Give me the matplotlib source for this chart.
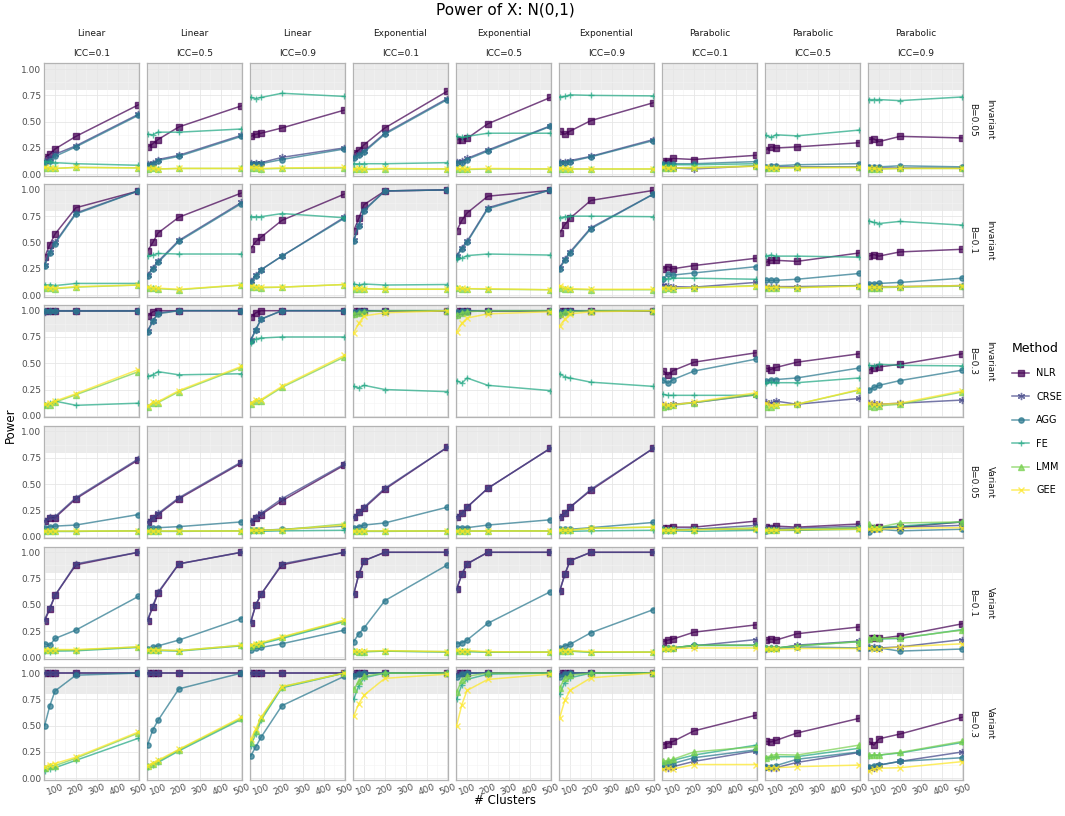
import matplotlib
matplotlib.use('Agg')
import matplotlib.pyplot as plt
from matplotlib.lines import Line2D
from matplotlib.ticker import MultipleLocator

# eixo x: numero de clusters
clusters = [50, 75, 100, 200, 500]

metodos = ['NLR', 'CRSE', 'AGG', 'FE', 'LMM', 'GEE']
cores = ['#440154', '#414487', '#2A788E', '#22A884', '#7AD151', '#FDE725']
marcadores = ['s', (6, 2, 0), 'o', '+', '^', 'x']
tamanhos = [3.8, 5.2, 3.8, 4.4, 3.8, 3.8]

formas = ['Linear', 'Linear', 'Linear', 'Exponential', 'Exponential', 'Exponential',
          'Parabolic', 'Parabolic', 'Parabolic']
iccs = ['ICC=0.1', 'ICC=0.5', 'ICC=0.9'] * 3
efeitos = ['Invariant', 'Invariant', 'Invariant', 'Variant', 'Variant', 'Variant']
betas = ['B=0.05', 'B=0.1', 'B=0.3', 'B=0.05', 'B=0.1', 'B=0.3']

# cada metodo: 6 linhas (efeito x B) x 9 colunas (forma x ICC) x 5 pontos
nlr = [
    # Invariant B=0.05
    [[0.16, 0.19, 0.24, 0.36, 0.66], [0.26, 0.29, 0.33, 0.45, 0.65], [0.36, 0.38, 0.39, 0.44, 0.61],
     [0.20, 0.23, 0.28, 0.44, 0.79], [0.33, 0.33, 0.34, 0.48, 0.73], [0.41, 0.38, 0.41, 0.51, 0.68],
     [0.13, 0.13, 0.15, 0.14, 0.18], [0.23, 0.26, 0.25, 0.26, 0.30], [0.33, 0.335, 0.31, 0.36, 0.345]],
    # Invariant B=0.1
    [[0.36, 0.48, 0.58, 0.83, 0.99], [0.42, 0.50, 0.59, 0.74, 0.97], [0.44, 0.51, 0.55, 0.71, 0.96],
     [0.61, 0.73, 0.86, 0.99, 1.0], [0.61, 0.71, 0.78, 0.94, 0.995], [0.59, 0.67, 0.73, 0.90, 0.995],
     [0.25, 0.27, 0.25, 0.28, 0.35], [0.31, 0.33, 0.33, 0.32, 0.40], [0.37, 0.385, 0.37, 0.41, 0.435]],
    # Invariant B=0.3
    [[1.0, 1.0, 1.0, 1.0, 1.0], [0.95, 0.99, 1.0, 1.0, 1.0], [0.94, 0.98, 1.0, 1.0, 1.0],
     [1.0, 1.0, 1.0, 1.0, 1.0], [1.0, 1.0, 1.0, 1.0, 1.0], [1.0, 1.0, 1.0, 1.0, 1.0],
     [0.43, 0.39, 0.43, 0.51, 0.60], [0.455, 0.44, 0.46, 0.51, 0.59], [0.435, 0.455, 0.465, 0.49, 0.59]],
    # Variant B=0.05
    [[0.15, 0.18, 0.18, 0.36, 0.73], [0.14, 0.18, 0.21, 0.36, 0.70], [0.14, 0.18, 0.21, 0.34, 0.68],
     [0.19, 0.23, 0.27, 0.45, 0.85], [0.19, 0.22, 0.28, 0.46, 0.84], [0.19, 0.22, 0.28, 0.44, 0.84],
     [0.085, 0.085, 0.09, 0.09, 0.148], [0.09, 0.085, 0.10, 0.09, 0.12], [0.085, 0.085, 0.09, 0.09, 0.14]],
    # Variant B=0.1
    [[0.35, 0.46, 0.59, 0.88, 1.0], [0.35, 0.48, 0.61, 0.89, 1.0], [0.33, 0.50, 0.60, 0.88, 1.0],
     [0.60, 0.79, 0.92, 1.0, 1.0], [0.65, 0.79, 0.89, 1.0, 1.0], [0.63, 0.79, 0.92, 1.0, 1.0],
     [0.15, 0.165, 0.175, 0.24, 0.31], [0.165, 0.175, 0.165, 0.225, 0.29], [0.18, 0.18, 0.18, 0.205, 0.32]],
    # Variant B=0.3
    [[1.0, 1.0, 1.0, 1.0, 1.0], [1.0, 1.0, 1.0, 1.0, 1.0], [1.0, 1.0, 1.0, 1.0, 1.0],
     [1.0, 1.0, 1.0, 1.0, 1.0], [1.0, 1.0, 1.0, 1.0, 1.0], [1.0, 1.0, 1.0, 1.0, 1.0],
     [0.32, 0.33, 0.35, 0.45, 0.60], [0.35, 0.345, 0.36, 0.43, 0.57], [0.35, 0.315, 0.375, 0.42, 0.58]],
]

crse = [
    [[0.13, 0.15, 0.19, 0.27, 0.57], [0.10, 0.11, 0.14, 0.18, 0.37], [0.11, 0.11, 0.11, 0.16, 0.25],
     [0.16, 0.19, 0.22, 0.39, 0.72], [0.12, 0.13, 0.15, 0.23, 0.46], [0.12, 0.12, 0.13, 0.17, 0.33],
     [0.07, 0.06, 0.06, 0.05, 0.08], [0.06, 0.07, 0.07, 0.07, 0.07], [0.06, 0.06, 0.06, 0.06, 0.06]],
    [[0.29, 0.41, 0.50, 0.78, 0.99], [0.19, 0.26, 0.32, 0.52, 0.88], [0.13, 0.19, 0.24, 0.37, 0.74],
     [0.52, 0.67, 0.81, 0.99, 1.0], [0.37, 0.45, 0.51, 0.83, 1.0], [0.26, 0.34, 0.41, 0.64, 0.96],
     [0.10, 0.09, 0.08, 0.075, 0.12], [0.08, 0.08, 0.08, 0.08, 0.09], [0.08, 0.07, 0.08, 0.08, 0.09]],
    [[0.99, 1.0, 1.0, 1.0, 1.0], [0.81, 0.90, 0.98, 1.0, 1.0], [0.72, 0.82, 0.92, 1.0, 1.0],
     [0.97, 0.99, 1.0, 1.0, 1.0], [0.96, 0.99, 1.0, 1.0, 1.0], [0.96, 0.99, 1.0, 1.0, 1.0],
     [0.10, 0.095, 0.11, 0.125, 0.20], [0.13, 0.12, 0.14, 0.11, 0.165], [0.12, 0.12, 0.11, 0.12, 0.15]],
    [[0.15, 0.19, 0.19, 0.37, 0.74], [0.14, 0.18, 0.22, 0.37, 0.71], [0.15, 0.19, 0.22, 0.36, 0.69],
     [0.19, 0.23, 0.28, 0.46, 0.85], [0.19, 0.22, 0.28, 0.46, 0.84], [0.19, 0.22, 0.28, 0.45, 0.84],
     [0.06, 0.06, 0.06, 0.07, 0.107], [0.08, 0.08, 0.08, 0.08, 0.10], [0.08, 0.07, 0.08, 0.09, 0.107]],
    [[0.36, 0.47, 0.59, 0.89, 1.0], [0.36, 0.49, 0.62, 0.89, 1.0], [0.34, 0.50, 0.60, 0.89, 1.0],
     [0.60, 0.79, 0.92, 1.0, 1.0], [0.65, 0.79, 0.89, 1.0, 1.0], [0.63, 0.79, 0.92, 1.0, 1.0],
     [0.085, 0.085, 0.09, 0.11, 0.17], [0.08, 0.085, 0.085, 0.117, 0.155], [0.10, 0.10, 0.09, 0.10, 0.17]],
    [[1.0, 1.0, 1.0, 1.0, 1.0], [1.0, 1.0, 1.0, 1.0, 1.0], [1.0, 1.0, 1.0, 1.0, 1.0],
     [0.99, 1.0, 1.0, 1.0, 1.0], [0.99, 1.0, 1.0, 1.0, 1.0], [0.99, 1.0, 1.0, 1.0, 1.0],
     [0.11, 0.095, 0.11, 0.16, 0.26], [0.11, 0.10, 0.10, 0.15, 0.245], [0.095, 0.10, 0.125, 0.16, 0.25]],
]

agg = [
    [[0.11, 0.13, 0.17, 0.26, 0.56], [0.09, 0.10, 0.13, 0.17, 0.36], [0.10, 0.10, 0.10, 0.14, 0.24],
     [0.15, 0.18, 0.21, 0.38, 0.71], [0.11, 0.11, 0.14, 0.22, 0.455], [0.11, 0.11, 0.12, 0.165, 0.32],
     [0.10, 0.10, 0.10, 0.10, 0.12], [0.07, 0.08, 0.08, 0.09, 0.10], [0.07, 0.07, 0.07, 0.08, 0.07]],
    [[0.28, 0.40, 0.49, 0.77, 0.99], [0.18, 0.25, 0.31, 0.51, 0.87], [0.12, 0.18, 0.24, 0.37, 0.73],
     [0.51, 0.66, 0.80, 0.99, 1.0], [0.36, 0.44, 0.50, 0.82, 1.0], [0.25, 0.33, 0.40, 0.63, 0.96],
     [0.15, 0.20, 0.19, 0.21, 0.27], [0.14, 0.14, 0.14, 0.15, 0.205], [0.105, 0.105, 0.11, 0.12, 0.16]],
    [[1.0, 1.0, 1.0, 1.0, 1.0], [0.80, 0.90, 0.97, 1.0, 1.0], [0.71, 0.82, 0.92, 1.0, 1.0],
     [0.99, 1.0, 1.0, 1.0, 1.0], [0.99, 1.0, 1.0, 1.0, 1.0], [0.99, 1.0, 1.0, 1.0, 1.0],
     [0.345, 0.31, 0.345, 0.425, 0.54], [0.33, 0.34, 0.345, 0.36, 0.455], [0.245, 0.27, 0.29, 0.335, 0.435]],
    [[0.08, 0.095, 0.10, 0.11, 0.21], [0.08, 0.08, 0.085, 0.095, 0.14], [0.06, 0.06, 0.06, 0.07, 0.10],
     [0.08, 0.095, 0.11, 0.13, 0.28], [0.08, 0.08, 0.085, 0.11, 0.16], [0.07, 0.07, 0.07, 0.085, 0.135],
     [0.07, 0.06, 0.07, 0.07, 0.07], [0.055, 0.06, 0.06, 0.06, 0.085], [0.045, 0.07, 0.07, 0.055, 0.07]],
    [[0.13, 0.115, 0.18, 0.26, 0.58], [0.08, 0.095, 0.11, 0.165, 0.37], [0.07, 0.085, 0.095, 0.13, 0.26],
     [0.15, 0.225, 0.28, 0.54, 0.88], [0.13, 0.14, 0.165, 0.325, 0.625], [0.085, 0.11, 0.125, 0.235, 0.455],
     [0.085, 0.085, 0.09, 0.115, 0.115], [0.085, 0.085, 0.09, 0.10, 0.09], [0.09, 0.085, 0.09, 0.06, 0.08]],
    [[0.50, 0.69, 0.83, 0.98, 1.0], [0.32, 0.46, 0.55, 0.85, 1.0], [0.21, 0.30, 0.39, 0.69, 0.97],
     [0.97, 0.99, 1.0, 1.0, 1.0], [0.96, 0.99, 1.0, 1.0, 1.0], [0.96, 0.99, 1.0, 1.0, 1.0],
     [0.13, 0.14, 0.14, 0.195, 0.27], [0.11, 0.11, 0.12, 0.18, 0.25], [0.11, 0.12, 0.125, 0.16, 0.195]],
]

fe = [
    [[0.12, 0.12, 0.11, 0.10, 0.085], [0.38, 0.375, 0.40, 0.40, 0.43], [0.73, 0.72, 0.73, 0.77, 0.74],
     [0.10, 0.10, 0.10, 0.10, 0.11], [0.36, 0.35, 0.36, 0.39, 0.39], [0.735, 0.74, 0.755, 0.75, 0.745],
     [0.09, 0.09, 0.09, 0.09, 0.10], [0.37, 0.35, 0.375, 0.365, 0.42], [0.71, 0.71, 0.71, 0.70, 0.735]],
    [[0.095, 0.10, 0.09, 0.11, 0.11], [0.37, 0.38, 0.395, 0.39, 0.39], [0.745, 0.745, 0.745, 0.775, 0.735],
     [0.105, 0.095, 0.105, 0.095, 0.10], [0.345, 0.35, 0.375, 0.39, 0.38], [0.735, 0.745, 0.75, 0.75, 0.745],
     [0.15, 0.155, 0.16, 0.16, 0.15], [0.37, 0.38, 0.37, 0.37, 0.36], [0.705, 0.69, 0.68, 0.70, 0.665]],
    [[0.105, 0.12, 0.14, 0.10, 0.12], [0.375, 0.39, 0.42, 0.39, 0.40], [0.69, 0.73, 0.74, 0.75, 0.75],
     [0.28, 0.265, 0.29, 0.25, 0.23], [0.335, 0.31, 0.36, 0.29, 0.24], [0.40, 0.37, 0.36, 0.32, 0.28],
     [0.205, 0.195, 0.195, 0.195, 0.195], [0.315, 0.32, 0.315, 0.315, 0.36], [0.48, 0.475, 0.49, 0.48, 0.475]],
    [[0.05, 0.05, 0.05, 0.05, 0.055], [0.05, 0.05, 0.05, 0.05, 0.055], [0.05, 0.055, 0.05, 0.055, 0.06],
     [0.05, 0.05, 0.05, 0.05, 0.055], [0.05, 0.05, 0.05, 0.05, 0.05], [0.05, 0.05, 0.05, 0.055, 0.06],
     [0.05, 0.05, 0.055, 0.05, 0.06], [0.06, 0.06, 0.06, 0.06, 0.07], [0.09, 0.08, 0.085, 0.10, 0.14]],
    [[0.057, 0.055, 0.06, 0.063, 0.095], [0.07, 0.07, 0.065, 0.06, 0.11], [0.10, 0.12, 0.13, 0.18, 0.34],
     [0.06, 0.05, 0.055, 0.06, 0.05], [0.06, 0.06, 0.055, 0.05, 0.05], [0.06, 0.055, 0.06, 0.05, 0.05],
     [0.085, 0.085, 0.09, 0.115, 0.115], [0.09, 0.09, 0.09, 0.11, 0.15], [0.17, 0.19, 0.175, 0.18, 0.265]],
    [[0.07, 0.09, 0.10, 0.17, 0.38], [0.11, 0.13, 0.15, 0.26, 0.56], [0.31, 0.42, 0.55, 0.86, 1.0],
     [0.75, 0.88, 0.955, 1.0, 1.0], [0.75, 0.89, 0.94, 0.99, 1.0], [0.80, 0.91, 0.955, 1.0, 1.0],
     [0.14, 0.16, 0.17, 0.22, 0.315], [0.19, 0.20, 0.205, 0.205, 0.285], [0.215, 0.22, 0.22, 0.24, 0.34]],
]

lmm = [
    [[0.06, 0.06, 0.055, 0.065, 0.06], [0.05, 0.06, 0.05, 0.055, 0.055], [0.06, 0.06, 0.05, 0.055, 0.06],
     [0.05, 0.05, 0.045, 0.05, 0.05], [0.05, 0.05, 0.045, 0.05, 0.05], [0.05, 0.05, 0.05, 0.05, 0.05],
     [0.06, 0.06, 0.06, 0.065, 0.08], [0.06, 0.06, 0.06, 0.065, 0.065], [0.05, 0.05, 0.05, 0.055, 0.055]],
    [[0.07, 0.065, 0.06, 0.075, 0.095], [0.07, 0.065, 0.06, 0.05, 0.095], [0.08, 0.075, 0.07, 0.075, 0.10],
     [0.06, 0.06, 0.06, 0.055, 0.055], [0.065, 0.06, 0.06, 0.055, 0.05], [0.07, 0.06, 0.055, 0.05, 0.05],
     [0.06, 0.065, 0.06, 0.07, 0.09], [0.07, 0.065, 0.07, 0.07, 0.09], [0.07, 0.07, 0.07, 0.075, 0.085]],
    [[0.10, 0.105, 0.13, 0.20, 0.42], [0.085, 0.12, 0.125, 0.23, 0.46], [0.11, 0.14, 0.145, 0.27, 0.56],
     [0.97, 0.98, 0.99, 1.0, 1.0], [0.96, 0.98, 0.99, 1.0, 1.0], [0.97, 0.99, 0.99, 1.0, 1.0],
     [0.088, 0.09, 0.10, 0.125, 0.205], [0.08, 0.088, 0.10, 0.11, 0.245], [0.095, 0.088, 0.095, 0.11, 0.227]],
    [[0.05, 0.05, 0.05, 0.05, 0.055], [0.05, 0.05, 0.05, 0.05, 0.05], [0.06, 0.06, 0.06, 0.065, 0.12],
     [0.05, 0.05, 0.05, 0.05, 0.05], [0.05, 0.05, 0.05, 0.055, 0.055], [0.06, 0.06, 0.06, 0.08, 0.09],
     [0.06, 0.06, 0.065, 0.065, 0.085], [0.06, 0.065, 0.065, 0.07, 0.085], [0.117, 0.09, 0.09, 0.13, 0.14]],
    [[0.07, 0.07, 0.07, 0.07, 0.10], [0.07, 0.07, 0.07, 0.065, 0.115], [0.11, 0.125, 0.135, 0.19, 0.35],
     [0.06, 0.055, 0.055, 0.06, 0.055], [0.06, 0.06, 0.06, 0.05, 0.05], [0.06, 0.06, 0.06, 0.05, 0.05],
     [0.085, 0.085, 0.09, 0.115, 0.115], [0.09, 0.09, 0.09, 0.11, 0.15], [0.175, 0.195, 0.18, 0.185, 0.26]],
    [[0.10, 0.12, 0.12, 0.19, 0.43], [0.12, 0.14, 0.16, 0.27, 0.57], [0.34, 0.45, 0.57, 0.87, 1.0],
     [0.845, 0.92, 0.97, 1.0, 1.0], [0.82, 0.93, 0.97, 1.0, 1.0], [0.86, 0.95, 0.98, 1.0, 1.0],
     [0.16, 0.17, 0.18, 0.25, 0.30], [0.195, 0.215, 0.225, 0.22, 0.315], [0.22, 0.225, 0.22, 0.245, 0.35]],
]

gee = [
    [[0.065, 0.06, 0.055, 0.065, 0.06], [0.055, 0.06, 0.05, 0.055, 0.055], [0.065, 0.065, 0.055, 0.06, 0.065],
     [0.05, 0.055, 0.05, 0.055, 0.05], [0.055, 0.055, 0.05, 0.055, 0.05], [0.06, 0.055, 0.05, 0.05, 0.05],
     [0.065, 0.06, 0.06, 0.06, 0.075], [0.065, 0.06, 0.06, 0.06, 0.065], [0.06, 0.055, 0.05, 0.055, 0.055]],
    [[0.075, 0.07, 0.065, 0.08, 0.095], [0.075, 0.07, 0.065, 0.055, 0.095], [0.09, 0.08, 0.075, 0.075, 0.10],
     [0.065, 0.065, 0.06, 0.055, 0.055], [0.07, 0.065, 0.06, 0.06, 0.05], [0.09, 0.07, 0.06, 0.055, 0.055],
     [0.07, 0.07, 0.065, 0.07, 0.085], [0.075, 0.07, 0.075, 0.07, 0.085], [0.075, 0.075, 0.075, 0.08, 0.09]],
    [[0.11, 0.12, 0.14, 0.21, 0.44], [0.09, 0.13, 0.135, 0.24, 0.47], [0.12, 0.155, 0.155, 0.28, 0.575],
     [0.79, 0.88, 0.95, 0.98, 1.0], [0.80, 0.88, 0.93, 0.97, 0.99], [0.855, 0.92, 0.97, 0.99, 1.0],
     [0.11, 0.10, 0.105, 0.13, 0.22], [0.12, 0.10, 0.10, 0.11, 0.25], [0.12, 0.11, 0.11, 0.12, 0.237]],
    [[0.05, 0.05, 0.05, 0.05, 0.05], [0.05, 0.05, 0.05, 0.05, 0.05], [0.06, 0.06, 0.06, 0.065, 0.11],
     [0.05, 0.05, 0.05, 0.05, 0.05], [0.05, 0.05, 0.05, 0.05, 0.05], [0.06, 0.06, 0.06, 0.08, 0.09],
     [0.06, 0.06, 0.06, 0.065, 0.075], [0.06, 0.06, 0.06, 0.065, 0.07], [0.07, 0.07, 0.07, 0.08, 0.085]],
    [[0.075, 0.075, 0.075, 0.075, 0.10], [0.075, 0.075, 0.07, 0.065, 0.115], [0.115, 0.13, 0.14, 0.195, 0.355],
     [0.065, 0.06, 0.06, 0.065, 0.055], [0.07, 0.065, 0.065, 0.055, 0.05], [0.07, 0.065, 0.065, 0.055, 0.05],
     [0.08, 0.08, 0.085, 0.09, 0.09], [0.08, 0.08, 0.08, 0.085, 0.085], [0.09, 0.08, 0.08, 0.10, 0.13]],
    [[0.11, 0.13, 0.14, 0.20, 0.44], [0.12, 0.145, 0.17, 0.275, 0.58], [0.37, 0.47, 0.58, 0.87, 1.0],
     [0.59, 0.71, 0.79, 0.95, 0.99], [0.50, 0.70, 0.835, 0.94, 0.99], [0.575, 0.74, 0.835, 0.955, 1.0],
     [0.088, 0.095, 0.088, 0.13, 0.13], [0.095, 0.095, 0.10, 0.11, 0.125], [0.07, 0.088, 0.095, 0.10, 0.158]],
]

dados = [nlr, crse, agg, fe, lmm, gee]

# layout em pixels (figura 1065 x 816)
W, H = 1065, 816
esq0, passo_x, larg = 44, 103.0, 95
topo0, passo_y, alt = 63.3, 120.8, 112.5

fig = plt.figure(figsize=(W / 100, H / 100), dpi=100)
cinza_txt = '#4d4d4d'
preto_txt = '#1a1a1a'

for i in range(6):
    for j in range(9):
        esq = esq0 + j * passo_x
        topo = topo0 + i * passo_y
        ax = fig.add_axes([esq / W, 1 - (topo + alt) / H, larg / W, alt / H])
        ax.axhspan(0.8, 1.1, color='#ebebeb', lw=0, zorder=0)
        for k in range(6):
            ax.plot(clusters, dados[k][i][j], color=cores[k], marker=marcadores[k],
                    ms=tamanhos[k], mew=1.0, lw=1.1, alpha=0.72, zorder=2 + k)
        ax.set_xlim(47, 503)
        ax.set_ylim(-0.015, 1.055)
        ax.set_xticks([100, 200, 300, 400, 500])
        ax.set_yticks([0, 0.25, 0.5, 0.75, 1.0])
        ax.xaxis.set_minor_locator(MultipleLocator(50))
        ax.yaxis.set_minor_locator(MultipleLocator(0.125))
        ax.grid(which='major', color='#e6e6e6', lw=0.6, zorder=1)
        ax.grid(which='minor', color='#f3f3f3', lw=0.4, zorder=1)
        ax.set_axisbelow(True)
        ax.tick_params(which='both', length=0, labelsize=6.5, colors=cinza_txt, pad=2)
        for s in ax.spines.values():
            s.set_color('#b3b3b3')
            s.set_linewidth(0.9)
        if j == 0:
            ax.set_yticklabels(['0.00', '0.25', '0.50', '0.75', '1.00'])
        else:
            ax.set_yticklabels([])
        if i == 5:
            ax.set_xticklabels(['100', '200', '300', '400', '500'], rotation=20)
        else:
            ax.set_xticklabels([])
        if i == 0:
            xc = (esq + larg / 2) / W
            fig.text(xc, 1 - 34 / H, formas[j], ha='center', va='center',
                     fontsize=6.5, color=preto_txt)
            fig.text(xc, 1 - 53 / H, iccs[j], ha='center', va='center',
                     fontsize=6.5, color=preto_txt)
        if j == 8:
            yc = 1 - (topo + alt / 2) / H
            fig.text(973 / W, yc, betas[i], rotation=-90, ha='center', va='center',
                     fontsize=6.5, color=preto_txt)
            fig.text(990 / W, yc, efeitos[i], rotation=-90, ha='center', va='center',
                     fontsize=6.5, color=preto_txt)

fig.suptitle('Power of X: N(0,1)', x=505 / W, y=1 - 10 / H, va='center', fontsize=11)
fig.text(505 / W, 1 - 800 / H, '# Clusters', ha='center', va='center', fontsize=8.5)
fig.text(10 / W, 1 - 425 / H, 'Power', rotation=90, ha='center', va='center', fontsize=8.5)

# legenda
handles = [Line2D([], [], color=cores[k], marker=marcadores[k], ms=tamanhos[k], mew=1.0,
                  lw=1.1, alpha=0.72) for k in range(6)]
leg = fig.legend(handles, metodos, loc='upper left', bbox_to_anchor=(1008 / W, 1 - 338 / H),
                 borderaxespad=0, frameon=False, fontsize=7, title='Method', title_fontsize=9,
                 labelspacing=1.38, handlelength=1.8, handletextpad=0.7)
leg._legend_box.align = 'left'

fig.savefig('out.png', dpi=100)
